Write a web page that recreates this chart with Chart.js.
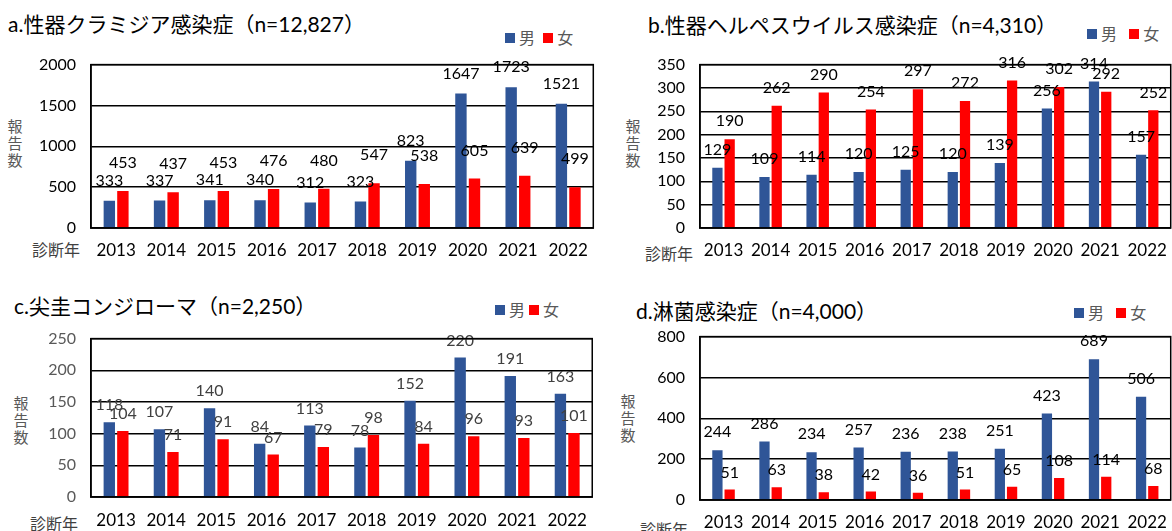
<!DOCTYPE html>
<html>
<head>
<meta charset="utf-8">
<script src="https://cdn.jsdelivr.net/npm/chart.js@4.4.1/dist/chart.umd.min.js"></script>
<style>
  html, body { margin:0; padding:0; background:#fff; overflow:hidden; width:1172px; height:531px; }
  body { position:relative; font-family: Lato, "Noto Sans CJK JP", sans-serif; }
  canvas { position:absolute; }
  .title { position:absolute; font-size:21px; color:#000; white-space:nowrap; }
  .legend { position:absolute; font-size:16px; color:#595959; white-space:nowrap; }
  .legend i { display:inline-block; width:10px; height:10px; margin-right:4px; vertical-align:1px; }
  .vlabel { position:absolute; font-size:15px; color:#595959; width:16px; line-height:17px; text-align:center; }
  .xname { position:absolute; font-size:16px; color:#404040; white-space:nowrap; }
</style>
</head>
<body>

<div class="title" style="left:8px;top:8px;">a.性器クラミジア感染症（n=12,827）</div>
<div class="legend" style="left:505px;top:25px;"><i style="background:#2F5597"></i>男&nbsp;&nbsp;<i style="background:#FF0000"></i>女</div>
<div class="vlabel" style="left:7px;top:118px;">報<br>告<br>数</div>
<div class="xname" style="left:32px;top:237px;">診断年</div>
<canvas id="chartA" width="600" height="218" style="left:0px;top:40px;"></canvas>

<div class="title" style="left:648px;top:9px;">b.性器ヘルペスウイルス感染症（n=4,310）</div>
<div class="legend" style="left:1087px;top:21px;"><i style="background:#2F5597"></i>男&nbsp;&nbsp;&nbsp;<i style="background:#FF0000"></i>女</div>
<div class="vlabel" style="left:625px;top:118px;">報<br>告<br>数</div>
<div class="xname" style="left:645px;top:241px;">診断年</div>
<canvas id="chartB" width="569" height="218" style="left:610px;top:40px;"></canvas>

<div class="title" style="left:14px;top:290px;">c.尖圭コンジローマ（n=2,250）</div>
<div class="legend" style="left:495px;top:297px;"><i style="background:#2F5597"></i>男&nbsp;<i style="background:#FF0000"></i>女</div>
<div class="vlabel" style="left:13px;top:395px;">報<br>告<br>数</div>
<div class="xname" style="left:30px;top:511px;">診断年</div>
<canvas id="chartC" width="600" height="213" style="left:0px;top:314px;"></canvas>

<div class="title" style="left:636px;top:295px;">d.淋菌感染症（n=4,000）</div>
<div class="legend" style="left:1074px;top:300px;"><i style="background:#2F5597"></i>男&nbsp;&nbsp;&nbsp;<i style="background:#FF0000"></i>女</div>
<div class="vlabel" style="left:620px;top:393px;">報<br>告<br>数</div>
<div class="xname" style="left:640px;top:517px;">診断年</div>
<canvas id="chartD" width="569" height="219" style="left:610px;top:312px;"></canvas>

<script>
// data
const years = ["2013","2014","2015","2016","2017","2018","2019","2020","2021","2022"];

const chlamydiaMale   = [333, 337, 341, 340, 312, 323, 823, 1647, 1723, 1521];
const chlamydiaFemale = [453, 437, 453, 476, 480, 547, 538, 605, 639, 499];

const herpesMale   = [129, 109, 114, 120, 125, 120, 139, 256, 314, 157];
const herpesFemale = [190, 262, 290, 254, 297, 272, 316, 302, 292, 252];

const condylomaMale   = [118, 107, 140, 84, 113, 78, 152, 220, 191, 163];
const condylomaFemale = [104, 71, 91, 67, 79, 98, 84, 96, 93, 101];

const gonorrheaMale   = [244, 286, 234, 257, 236, 238, 251, 423, 689, 506];
const gonorrheaFemale = [51, 63, 38, 42, 36, 51, 65, 108, 114, 68];

// y axis ranges
const yMaxA = 2000, yStepA = 500;
const yMaxB = 350,  yStepB = 50;
const yMaxC = 250,  yStepC = 50;
const yMaxD = 800,  yStepD = 200;

const BLUE = "#2F5597";
const RED  = "#FF0000";

Chart.defaults.font.family = "Lato, 'Noto Sans CJK JP', sans-serif";

// full box around the plot area
const framePlugin = {
  id: "frame",
  afterDraw(chart) {
    const a = chart.chartArea, c = chart.ctx;
    c.save();
    c.strokeStyle = "#000";
    c.lineWidth = 1.5;
    c.strokeRect(a.left, a.top, a.right - a.left, a.bottom - a.top);
    c.restore();
  }
};

// value labels above each bar
const valuePlugin = {
  id: "values",
  afterDatasetsDraw(chart, args, opts) {
    const c = chart.ctx;
    c.save();
    c.font = "16px Lato, 'Noto Sans CJK JP', sans-serif";
    c.fillStyle = opts.color || "#000";
    c.textAlign = "center";
    c.textBaseline = "middle";
    chart.data.datasets.forEach((ds, i) => {
      const meta = chart.getDatasetMeta(i);
      const off = (opts.offsets || [18, 18])[i];
      meta.data.forEach((bar, j) => {
        c.fillText(String(ds.data[j]), bar.x, bar.y - off);
      });
    });
    c.restore();
  }
};

function makeChart(id, male, female, yMax, yStep, geo) {
  const ctx = document.getElementById(id).getContext("2d");
  return new Chart(ctx, {
    type: "bar",
    data: {
      labels: years,
      datasets: [
        { label: "男", data: male, backgroundColor: BLUE },
        { label: "女", data: female, backgroundColor: RED }
      ]
    },
    options: {
      responsive: false,
      animation: false,
      events: [],
      categoryPercentage: geo.catPct,
      barPercentage: 0.84,
      layout: { padding: { top: 18, right: 2, bottom: 0, left: 0 } },
      plugins: {
        legend: { display: false },
        tooltip: { enabled: false },
        values: { color: geo.valueColor, offsets: geo.offsets }
      },
      scales: {
        x: {
          grid: { display: false, drawTicks: false },
          border: { color: "#000", width: 1.5 },
          ticks: { color: "#000", font: { size: 17 }, padding: geo.xPad, maxRotation: 0 },
          afterFit: s => { s.height = geo.xH; }
        },
        y: {
          min: 0, max: yMax,
          grid: { color: "#000", lineWidth: 1.5, drawTicks: false },
          border: { color: "#000", width: 1.5 },
          ticks: { stepSize: yStep, color: geo.tickColor, font: { size: 16 }, padding: 15,
                   callback: v => String(v) },
          afterFit: s => { s.width = geo.yW; }
        }
      }
    },
    plugins: [framePlugin, valuePlugin]
  });
}

makeChart("chartA", chlamydiaMale, chlamydiaFemale, yMaxA, yStepA,
  { yW: 91, xH: 30, xPad: 12, catPct: 0.54, tickColor: "#000", valueColor: "#000", offsets: [20, 28] });
makeChart("chartB", herpesMale, herpesFemale, yMaxB, yStepB,
  { yW: 90, xH: 30, xPad: 12, catPct: 0.52, tickColor: "#000", valueColor: "#000", offsets: [18, 18] });
makeChart("chartC", condylomaMale, condylomaFemale, yMaxC, yStepC,
  { yW: 91, xH: 30, xPad: 13, catPct: 0.54, tickColor: "#595959", valueColor: "#404040", offsets: [17, 17] });
makeChart("chartD", gonorrheaMale, gonorrheaFemale, yMaxD, yStepD,
  { yW: 90, xH: 31, xPad: 12, catPct: 0.52, tickColor: "#000", valueColor: "#000", offsets: [18, 17] });
</script>
</body>
</html>
